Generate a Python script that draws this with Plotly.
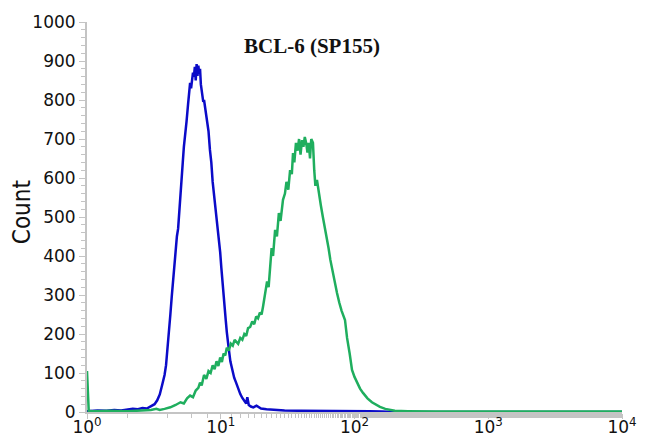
import plotly.graph_objects as go

# ---- data ----
blue_x = [1.00, 1.2, 1.4, 1.6, 1.8, 2.0, 2.2, 2.4, 2.6, 2.8, 3.0, 3.2, 3.35, 3.5, 3.65,
          3.8, 3.9, 4.0, 4.1, 4.2, 4.3, 4.4, 4.5, 4.6, 4.7, 4.8, 4.9, 5.0, 5.1, 5.2,
          5.3, 5.4, 5.55, 5.7, 5.8, 5.9, 6.0, 6.1, 6.2, 6.3, 6.4, 6.5, 6.6, 6.7, 6.8,
          6.9, 7.0, 7.1, 7.25, 7.4, 7.5, 7.7, 7.9, 8.1, 8.3, 8.5, 8.7, 8.9, 9.1, 9.3,
          9.5, 9.7, 9.9, 10.1, 10.3, 10.5, 10.7, 10.9, 11.1, 11.3, 11.5, 11.8, 12.2, 12.6,
          13.0, 13.5, 14.0, 14.5, 15.0, 15.5, 15.8, 16.2, 16.8, 17.5, 18.5, 20, 22, 25,
          30, 40, 60, 80, 100, 130, 160, 200, 400, 1000, 3000, 10000]
blue_y = [2, 4, 3, 5, 4, 6, 8, 7, 10, 9, 14, 20, 30, 45, 70,
          95, 120, 160, 200, 250, 295, 335, 380, 420, 450, 470, 520, 545, 590, 640,
          680, 715, 745, 790, 810, 844, 830, 855, 870, 860, 885, 850, 892, 862, 888,
          868, 880, 840, 820, 795, 800, 775, 756, 720, 672, 640, 590, 560, 520, 490,
          460, 440, 410, 370, 340, 300, 270, 235, 205, 177, 160, 130, 105, 88,
          76, 58, 46, 36, 30, 22, 38, 18, 14, 12, 16, 9, 7, 5,
          4, 3, 3, 2, 3, 2, 1, 0, 0, 0, 0, 0]

green_x = [1.00, 1.03, 1.1, 1.5, 2.0, 2.5, 3.0, 3.3, 3.5, 3.8, 4.2, 4.6, 5.0, 5.3, 5.6,
           5.9, 6.2, 6.5, 6.8, 7.0, 7.2, 7.5, 7.8, 8.1, 8.4, 8.7, 9.0, 9.3, 9.6, 9.9,
           10.2, 10.5, 10.8, 11.1, 11.5, 11.9, 12.3, 12.7, 13.1, 13.5, 14.0, 14.5, 15.0,
           15.5, 16.0, 16.6, 17.2, 17.8, 18.4, 19.0, 19.6, 20.2, 20.7, 21.5, 22.2, 22.8,
           23.4, 24.0, 24.6, 25.5, 26.3, 27.2, 28.0, 29.2, 30.2, 31.0, 32.0, 33.0, 34.0,
           34.7, 35.5, 36.5, 37.5, 38.5, 39.5, 40.5, 41.5, 42.5, 43.5, 44.5, 45.5, 46.5,
           47.5, 48.9, 50.0, 51.0, 52.4, 54, 56, 58, 60, 62.3, 64, 66, 68, 70, 72, 74,
           77, 80, 84.9, 88, 92, 95.8, 100, 105, 110, 115.8, 125, 135, 145, 155, 170,
           184, 200, 250, 400, 1000, 10000]
green_y = [105, 3, 2, 3, 2, 4, 5, 8, 5, 8, 12, 18, 25, 22, 35,
           42, 38, 55, 62, 75, 68, 95, 85, 105, 100, 120, 110, 130, 118, 140,
           128, 150, 145, 165, 158, 175, 170, 185, 180, 175, 190, 185, 200,
           195, 215, 218, 232, 225, 245, 240, 255, 250, 270, 300, 335, 320,
           364, 420, 400, 467, 450, 510, 490, 544, 560, 590, 570, 620, 610,
           664, 640, 690, 670, 700, 660, 697, 680, 705, 690, 665, 690, 650,
           700, 690, 620, 580, 595, 560, 530, 500, 475, 449, 420, 390, 365, 345, 320, 305,
           280, 260, 236, 190, 150, 108, 90, 75, 60, 49, 35, 25, 18, 13, 8,
           5, 3, 2, 1, 1, 1]

x_tickvals = [1, 10, 100, 1000, 10000]
x_ticktext = ["10<sup>0</sup>", "10<sup>1</sup>", "10<sup>2</sup>", "10<sup>3</sup>", "10<sup>4</sup>"]
y_tickvals = [0, 100, 200, 300, 400, 500, 600, 700, 800, 900, 1000]
title_text = "BCL-6 (SP155)"
y_title = "Count"

BLUE = "#0b0bc8"
GREEN = "#1fae5e"
AXIS = "#c4c4c4"
TICKFONT = "DejaVu Sans, Verdana, sans-serif"

fig = go.Figure()
fig.add_trace(go.Scatter(x=blue_x, y=blue_y, mode="lines",
                         line=dict(color=BLUE, width=2.5), showlegend=False))
fig.add_trace(go.Scatter(x=green_x, y=green_y, mode="lines",
                         line=dict(color=GREEN, width=2.5), showlegend=False))

# the page body has an 8px default margin; size the figure so it fits the window
fig.update_layout(
    width=634, height=432,
    margin=dict(l=79, r=20, t=14, b=28),
    paper_bgcolor="white", plot_bgcolor="white",
    font=dict(family=TICKFONT, color="#111111"),
    showlegend=False,
)
fig.update_xaxes(
    type="log", range=[0, 4], automargin=False,
    tickvals=x_tickvals, ticktext=x_ticktext,
    tickfont=dict(size=17, family=TICKFONT),
    ticklabelstandoff=-6,
    showgrid=False, zeroline=False,
    showline=True, linecolor=AXIS, linewidth=2,
    ticks="outside", ticklen=5, tickcolor=AXIS, tickwidth=1,
    minor=dict(ticks="outside", ticklen=4, tickcolor=AXIS, tickwidth=1, showgrid=False),
)
fig.update_yaxes(
    range=[0, 1000], automargin=False,
    tickvals=y_tickvals,
    tickfont=dict(size=17, family=TICKFONT),
    showgrid=False, zeroline=False,
    showline=True, linecolor=AXIS, linewidth=2,
    ticks="outside", ticklen=6, tickcolor=AXIS, tickwidth=1,
    minor=dict(ticks="outside", ticklen=4, tickcolor=AXIS, tickwidth=1,
               dtick=20, tick0=0, showgrid=False),
)
# y-axis title
fig.add_annotation(
    text=y_title, textangle=-90,
    xref="paper", yref="paper", x=-0.121, y=0.513,
    xanchor="center", yanchor="middle", showarrow=False,
    font=dict(family="Liberation Sans Narrow, DejaVu Sans Condensed, Arial Narrow, sans-serif",
              size=24, color="#111111"),
)
# chart title
fig.add_annotation(
    text="<b>" + title_text + "</b>",
    xref="paper", yref="paper", x=0.42, y=0.938,
    xanchor="center", yanchor="middle", showarrow=False,
    font=dict(family="Liberation Serif, DejaVu Serif, serif", size=21, color="#111111"),
)

fig.write_html("out.html")
